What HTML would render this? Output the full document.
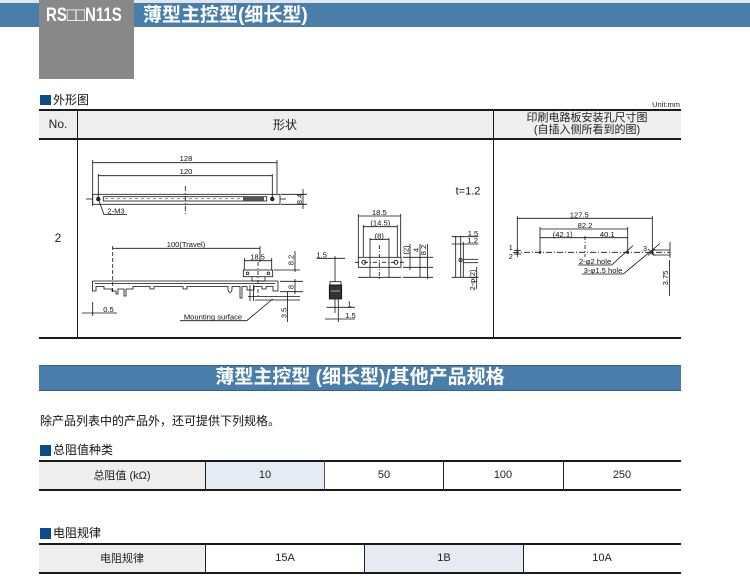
<!DOCTYPE html>
<html><head><meta charset="utf-8">
<style>
*{margin:0;padding:0;box-sizing:border-box}
html,body{width:750px;height:586px;overflow:hidden;background:#fff}
body{position:relative;font-family:"Liberation Sans","Noto Sans CJK SC",sans-serif;color:#111}
.a{position:absolute}
.t{position:absolute;white-space:nowrap}
.cell{position:absolute;display:flex;align-items:center;justify-content:center;font-size:11px;color:#222}
.sq{position:absolute;width:11px;height:11px;background:#0d4c8a}
</style></head><body>

<!-- top header -->
<div class="a" style="left:0;top:0;width:750px;height:3px;background:#dfe5ec"></div>
<div class="a" style="left:0;top:3px;width:750px;height:24px;background:#4a7eaa"></div>
<div class="a" style="left:39px;top:0;width:95px;height:79px;background:#888"></div>
<div class="t" style="left:46px;top:4px;font-family:'Liberation Sans','DejaVu Sans',sans-serif;font-weight:bold;font-size:19px;line-height:24px;color:#fff;transform:scaleX(0.79);transform-origin:0 0">RS□□N11S</div>
<div class="t" style="left:143px;top:4px;font-weight:bold;font-size:19px;line-height:24px;color:#fff">薄型主控型(细长型)</div>

<!-- 外形图 -->
<div class="sq" style="left:40px;top:95px;height:10px"></div>
<div class="t" style="left:53px;top:92px;font-size:12px;line-height:16px">外形图</div>
<div class="t" style="left:650px;top:100px;font-size:7.5px;line-height:9px;width:30px;text-align:right;color:#223">Unit:mm</div>

<!-- main table -->
<div class="a" style="left:39px;top:110px;width:642px;height:28px;background:#eeeeee"></div>
<div class="a" style="left:39px;top:108.5px;width:642px;height:2px;background:#1a1a1a"></div>
<div class="a" style="left:39px;top:138px;width:642px;height:2px;background:#1a1a1a"></div>
<div class="a" style="left:39px;top:337px;width:642px;height:2px;background:#1a1a1a"></div>
<div class="a" style="left:76.5px;top:110px;width:1px;height:227px;background:#1a1a1a"></div>
<div class="a" style="left:492.5px;top:110px;width:1px;height:227px;background:#1a1a1a"></div>
<div class="cell" style="left:39px;top:110px;width:38px;height:28px;font-size:12px">No.</div>
<div class="cell" style="left:77px;top:110px;width:416px;height:28px;font-size:12px">形状</div>
<div class="cell" style="left:493px;top:110px;width:188px;height:28px;font-size:11px;line-height:12px;flex-direction:column">
  <div>印刷电路板安装孔尺寸图</div><div>(自插入侧所看到的图)</div></div>
<div class="cell" style="left:39px;top:229px;width:38px;height:18px;font-size:12px">2</div>

<!-- drawings -->
<svg class="a" style="left:0;top:0" width="750" height="586" viewBox="0 0 750 586" xmlns="http://www.w3.org/2000/svg">
<g stroke="#111" stroke-width="0.8" fill="none">
  <!-- top view -->
  <line x1="92.7" y1="160" x2="92.7" y2="206"/>
  <line x1="277" y1="160" x2="277" y2="194"/>
  <line x1="92.7" y1="162.7" x2="277" y2="162.7"/>
  <line x1="98.3" y1="174" x2="98.3" y2="199"/>
  <line x1="272.3" y1="174" x2="272.3" y2="199"/>
  <line x1="98.3" y1="175.7" x2="272.3" y2="175.7"/>
  <rect x="92.7" y="194.3" width="187.3" height="10"/>
  <rect x="103.3" y="196.7" width="163.4" height="4.3"/>
  <line x1="105" y1="198.8" x2="240" y2="198.8" stroke-dasharray="3 3" stroke-width="0.5"/>
  <rect x="243" y="196.8" width="21" height="4" fill="#555" stroke="none"/>
  <circle cx="98.3" cy="199" r="1.8" fill="#333"/>
  <circle cx="272.3" cy="199" r="1.8" fill="#333"/>
  <line x1="86" y1="199" x2="92.7" y2="199"/>
  <line x1="280" y1="199" x2="286" y2="199"/>
  <line x1="185.3" y1="186" x2="185.3" y2="215" stroke-dasharray="5 2 1 2"/>
  <line x1="281" y1="194.3" x2="307" y2="194.3"/>
  <line x1="281" y1="204.3" x2="307" y2="204.3"/>
  <line x1="303" y1="189" x2="303" y2="209"/>
  <polyline points="98.3,199 104,214.5 127,214.5"/>

  <!-- front view -->
  <line x1="112.7" y1="248.3" x2="260" y2="248.3"/>
  <line x1="112.7" y1="246" x2="112.7" y2="292" stroke-dasharray="4 2"/>
  <line x1="260" y1="246" x2="260" y2="262"/>
  <line x1="244.3" y1="260.7" x2="271.7" y2="260.7"/>
  <line x1="244.3" y1="258" x2="244.3" y2="270"/>
  <line x1="271.7" y1="258" x2="271.7" y2="270"/>
  <rect x="243.3" y="270" width="29.4" height="6.7"/>
  <circle cx="247.6" cy="273.3" r="1.3"/>
  <circle cx="268.4" cy="273.3" r="1.3"/>
  <polyline points="252,276.7 252,281 265,281 265,276.7"/>
  <line x1="258" y1="262" x2="258" y2="298" stroke-dasharray="4 2 1 2"/>
  <line x1="274" y1="270" x2="300" y2="270"/>
  <line x1="295" y1="251" x2="295" y2="272"/>
  <line x1="92.5" y1="281" x2="278" y2="281"/>
  <line x1="95" y1="283.5" x2="275" y2="283.5"/>
  <path d="M92.5,281 V291 H96 V286.5 H104 V289 H112 V291 H116 V294 H118 V289 H124 V296 H126 V289 H133 V286.5 H150 V289 H154 V286.5 H183 V289 H187 V286.5 H228 V290 Q230,295 232,290 V286.5 H240 V298 H242 V286.5 H247 V290 H254 V286.5 H262 V289 H266 V286.5 H273 V291 H278 V281"/>
  <line x1="280" y1="281.3" x2="303" y2="281.3"/>
  <line x1="280" y1="291.7" x2="303" y2="291.7"/>
  <line x1="295" y1="279" x2="295" y2="294"/>
  <line x1="250" y1="285" x2="250" y2="301"/>
  <line x1="253.5" y1="285" x2="253.5" y2="301"/>
  <line x1="248" y1="296.5" x2="300" y2="296.5"/>
  <line x1="255" y1="300" x2="300" y2="300"/>
  <line x1="287.5" y1="292" x2="287.5" y2="322"/>
  <line x1="92.7" y1="302" x2="92.7" y2="316"/>
  <line x1="82" y1="313" x2="117" y2="313"/>
  <polyline points="180,320.7 246.7,320.7 272.7,299"/>

  <!-- small side view -->
  <line x1="316.7" y1="258.3" x2="345" y2="258.3"/>
  <line x1="335" y1="256" x2="335" y2="282"/>
  <rect x="330" y="281.7" width="11" height="3.3"/>
  <rect x="329.3" y="285" width="12.4" height="14" fill="#333"/>
  <line x1="331" y1="291" x2="340" y2="291" stroke="#fff" stroke-width="0.6"/>
  <line x1="335" y1="299" x2="335" y2="313"/>
  <line x1="338.3" y1="299" x2="338.3" y2="322"/>
  <line x1="326.7" y1="307.3" x2="355" y2="307.3"/>
  <line x1="325" y1="319" x2="355" y2="319"/>

  <!-- connector front view -->
  <line x1="358.3" y1="216" x2="400.7" y2="216"/>
  <line x1="358.3" y1="214" x2="358.3" y2="257.3"/>
  <line x1="400.7" y1="214" x2="400.7" y2="257.3"/>
  <line x1="363.3" y1="226.7" x2="397.3" y2="226.7"/>
  <line x1="363.3" y1="225" x2="363.3" y2="257.3"/>
  <line x1="397.3" y1="225" x2="397.3" y2="257.3"/>
  <line x1="370" y1="239.3" x2="389" y2="239.3"/>
  <line x1="370" y1="238" x2="370" y2="277.3"/>
  <line x1="389" y1="238" x2="389" y2="277.3"/>
  <rect x="358.3" y="257.3" width="42.7" height="10"/>
  <circle cx="364" cy="262.3" r="2"/>
  <circle cx="396" cy="262.3" r="2"/>
  <line x1="355" y1="262.3" x2="405" y2="262.3" stroke-dasharray="4 2 1 2"/>
  <line x1="358" y1="277.3" x2="401" y2="277.3"/>
  <line x1="379.3" y1="245" x2="379.3" y2="279" stroke-dasharray="4 2 1 2"/>
  <line x1="403" y1="257.3" x2="433" y2="257.3"/>
  <line x1="403" y1="267.3" x2="433" y2="267.3"/>
  <line x1="403" y1="277.3" x2="433" y2="277.3"/>
  <line x1="410" y1="244" x2="410" y2="270"/>
  <line x1="420" y1="244" x2="420" y2="277"/>
  <line x1="427.5" y1="244" x2="427.5" y2="279"/>

  <!-- right side view -->
  <line x1="451.7" y1="236.7" x2="478.3" y2="236.7"/>
  <line x1="451.7" y1="244" x2="478.3" y2="244"/>
  <line x1="455.7" y1="236" x2="455.7" y2="277.3"/>
  <line x1="460.7" y1="236" x2="460.7" y2="277.3"/>
  <line x1="463.3" y1="242" x2="463.3" y2="277.3"/>
  <circle cx="460.5" cy="260" r="1.6"/>
  <line x1="463.3" y1="259.3" x2="478.3" y2="259.3"/>
  <line x1="463.3" y1="262.7" x2="478.3" y2="262.7"/>
  <line x1="451.7" y1="277.3" x2="478.3" y2="277.3"/>
  <line x1="476.7" y1="267" x2="476.7" y2="289"/>

  <!-- hole pattern -->
  <line x1="517.3" y1="216" x2="517.3" y2="255"/>
  <line x1="652.3" y1="216" x2="652.3" y2="255"/>
  <line x1="517.3" y1="218.3" x2="652.3" y2="218.3"/>
  <line x1="540" y1="227" x2="540" y2="254"/>
  <line x1="627.7" y1="227" x2="627.7" y2="254"/>
  <line x1="540" y1="229" x2="627.7" y2="229"/>
  <line x1="540" y1="237.7" x2="627.7" y2="237.7"/>
  <line x1="585" y1="236" x2="585" y2="257" stroke-dasharray="4 2 1 2"/>
  <line x1="513" y1="252.3" x2="670" y2="252.3" stroke-dasharray="6 2 1 2"/>
  <line x1="514" y1="250.5" x2="521" y2="250.5"/>
  <line x1="514" y1="254" x2="521" y2="254"/>
  <line x1="517.3" y1="248" x2="517.3" y2="257"/>
  <line x1="648" y1="249" x2="655" y2="255.5"/>
  <line x1="648" y1="255.5" x2="655" y2="249"/>
  <polyline points="578,265 611.7,265 633,245.5"/>
  <polyline points="581.7,274 623.3,274 660,243.5"/>
  <line x1="653" y1="250" x2="670" y2="250"/>
  <line x1="653" y1="255" x2="670" y2="255"/>
  <line x1="670" y1="242" x2="670" y2="258"/>
  <line x1="669.5" y1="260" x2="669.5" y2="296"/>
</g>
<g fill="#333" stroke="none">
  <circle cx="540" cy="252.3" r="1.4"/>
  <circle cx="627.7" cy="252.3" r="1.6"/>
  <circle cx="651.7" cy="252.3" r="1.4"/>
</g>
<g font-family="Liberation Sans, sans-serif" font-size="7.6" fill="#111" text-anchor="middle">
  <text x="186" y="161">128</text>
  <text x="186" y="174">120</text>
  <text transform="translate(302,199) rotate(-90)">8.4</text>
  <text x="116" y="213.5">2-M3</text>
  <text x="186" y="247">100(Travel)</text>
  <text x="257.5" y="259.3">18.5</text>
  <text transform="translate(293.5,260) rotate(-90)">8.2</text>
  <text transform="translate(293.5,287) rotate(-90)">8</text>
  <text transform="translate(286.5,313) rotate(-90)">3.5</text>
  <text x="108.5" y="312">0.5</text>
  <text x="213" y="319.7">Mounting surface</text>
  <text x="321.7" y="257.5">1.5</text>
  <text x="349.5" y="306.3">1</text>
  <text x="350.5" y="318">1.5</text>
  <text x="379.3" y="215">18.5</text>
  <text x="380.3" y="225.7">(14.5)</text>
  <text x="379.3" y="238.3">(8)</text>
  <text transform="translate(408.7,250) rotate(-90)">(2)</text>
  <text transform="translate(418.5,250) rotate(-90)">4</text>
  <text transform="translate(426,250) rotate(-90)">8.2</text>
  <text x="473" y="235.8">1.5</text>
  <text x="472.7" y="243.2">1.2</text>
  <text transform="translate(475,280) rotate(-90)">2-φ(2)</text>
  <text x="579.3" y="217.5">127.5</text>
  <text x="585" y="228.2">82.2</text>
  <text x="562.7" y="236.9">(42.1)</text>
  <text x="607.3" y="236.9">40.1</text>
  <text x="510.7" y="250">1</text>
  <text x="510.7" y="259">2</text>
  <text x="645" y="251">3</text>
  <text x="595" y="264.2">2-φ2 hole</text>
  <text x="603" y="273.2">3-φ1.5 hole</text>
  <text transform="translate(668,278) rotate(-90)">3.75</text>
  <text x="468" y="194.5" font-size="11">t=1.2</text>
</g>
</svg>

<!-- banner -->
<div class="a" style="left:39px;top:365px;width:642px;height:26px;background:#4a7eaa;border-top:1px solid #2f6090;border-bottom:1.5px solid #2f6090"></div>
<div class="t" style="left:39px;top:366px;width:642px;text-align:center;font-weight:bold;font-size:19px;line-height:24px;color:#fff">薄型主控型 (细长型)/其他产品规格</div>

<div class="t" style="left:40px;top:413px;font-size:12px;line-height:16px">除产品列表中的产品外，还可提供下列规格。</div>

<!-- 总阻值种类 -->
<div class="sq" style="left:40px;top:445px"></div>
<div class="t" style="left:53px;top:442px;font-size:12px;line-height:16px">总阻值种类</div>
<div class="a" style="left:39px;top:461px;width:166.5px;height:28px;background:#eeeeee"></div>
<div class="a" style="left:205.5px;top:461px;width:119px;height:28px;background:#e4ebf3"></div>
<div class="a" style="left:39px;top:459.5px;width:642px;height:2px;background:#1a1a1a"></div>
<div class="a" style="left:39px;top:488.5px;width:642px;height:2px;background:#1a1a1a"></div>
<div class="a" style="left:205px;top:461px;width:1px;height:28px;background:#222"></div>
<div class="a" style="left:324px;top:461px;width:1px;height:28px;background:#555"></div>
<div class="a" style="left:443px;top:461px;width:1px;height:28px;background:#222"></div>
<div class="a" style="left:562.5px;top:461px;width:1px;height:28px;background:#222"></div>
<div class="cell" style="left:39px;top:461px;width:166px;height:28px">总阻值 (kΩ)</div>
<div class="cell" style="left:206px;top:461px;width:118px;height:28px">10</div>
<div class="cell" style="left:325px;top:461px;width:118px;height:28px">50</div>
<div class="cell" style="left:444px;top:461px;width:118px;height:28px">100</div>
<div class="cell" style="left:563px;top:461px;width:118px;height:28px">250</div>

<!-- 电阻规律 -->
<div class="sq" style="left:40px;top:528px"></div>
<div class="t" style="left:53px;top:525px;font-size:12px;line-height:16px">电阻规律</div>
<div class="a" style="left:39px;top:544px;width:166.5px;height:28px;background:#eeeeee"></div>
<div class="a" style="left:364.5px;top:544px;width:158px;height:28px;background:#e4ebf3"></div>
<div class="a" style="left:39px;top:542.5px;width:642px;height:2px;background:#1a1a1a"></div>
<div class="a" style="left:39px;top:572px;width:642px;height:2px;background:#1a1a1a"></div>
<div class="a" style="left:205px;top:544px;width:1px;height:28px;background:#222"></div>
<div class="a" style="left:364px;top:544px;width:1px;height:28px;background:#222"></div>
<div class="a" style="left:522.5px;top:544px;width:1px;height:28px;background:#222"></div>
<div class="cell" style="left:39px;top:544px;width:166px;height:28px">电阻规律</div>
<div class="cell" style="left:206px;top:544px;width:158px;height:28px">15A</div>
<div class="cell" style="left:365px;top:544px;width:158px;height:28px">1B</div>
<div class="cell" style="left:523px;top:544px;width:158px;height:28px">10A</div>

</body></html>
